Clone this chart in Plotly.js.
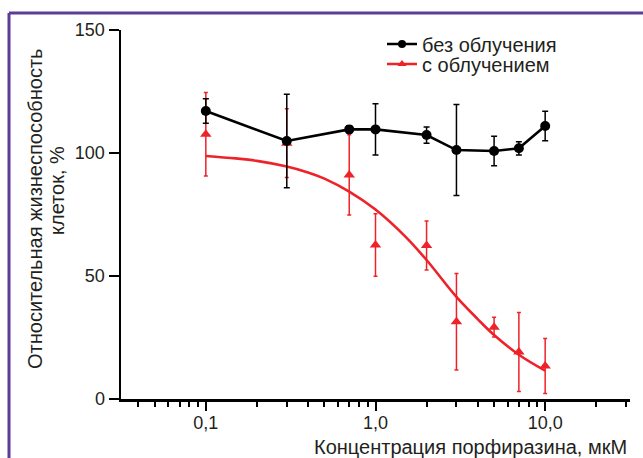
<!DOCTYPE html>
<html>
<head>
<meta charset="utf-8">
<script src="https://cdn.plot.ly/plotly-3.0.1.min.js"></script>
<style>html,body{margin:0;padding:0;background:#fff;}#chart{width:643px;height:458px;}</style>
</head>
<body>
<div id="chart"></div>
<script>
// Concentrations (µM)
const concBlack = [0.1, 0.3, 0.7, 1, 2, 3, 5, 7, 10];
const viabBlack = [117.1, 104.9, 109.6, 109.6, 107.3, 101.2, 100.8, 101.9, 111];
const errBlack  = [5, 19, 1.5, 10.4, 3.3, 18.5, 6, 2.7, 6];

const concRed = [0.1, 0.3, 0.7, 1, 2, 3, 5, 7, 10];
const viabRed = [107.6, 104, 91.1, 62.6, 62.4, 31.4, 29.2, 19.1, 13.4];
const errRed  = [17, 14, 16.3, 12.7, 10, 19.6, 4, 16.1, 11.2];

// fitted curve
const fitX = [0.1, 0.15, 0.2, 0.3, 0.4, 0.5, 0.7, 1, 1.5, 2, 3, 4, 5, 7, 10];
const fitY = [98.8, 97.8, 96.8, 94.5, 92.1, 89.6, 84.3, 77, 66, 56.5, 41.5, 32.5, 26, 18, 11.5];

const seriesNames = ['без облучения', 'с облучением'];
const xTickVals = [0.1, 1, 10];
const xTickText = ['0,1', '1,0', '10,0'];
const xMinorVals = [0.04,0.05,0.06,0.07,0.08,0.09,0.2,0.3,0.4,0.5,0.6,0.7,0.8,0.9,2,3,4,5,6,7,8,9,20,30];
const yTickVals = [0, 50, 100, 150];
const yTitle1 = 'Относительная жизнеспособность';
const yTitle2 = 'клеток, %';
const xTitle = 'Концентрация порфиразина, мкМ';

const RED = '#ee2229';
const BLK = '#000000';
const TXT = '#231f20';
const FONT = 'Liberation Sans, Arial, sans-serif';

const traces = [
  {x: fitX, y: fitY, type: 'scatter', mode: 'lines', line: {color: RED, width: 2.6, shape: 'spline', smoothing: 1}, showlegend: false, hoverinfo: 'skip'},
  {x: concRed, y: viabRed, type: 'scatter', mode: 'markers',
   marker: {symbol: 'triangle-up', size: 10, color: RED},
   error_y: {type: 'data', array: errRed, visible: true, color: RED, thickness: 1.5, width: 2},
   showlegend: false},
  {x: concBlack, y: viabBlack, type: 'scatter', mode: 'lines+markers',
   line: {color: BLK, width: 2.6}, marker: {symbol: 'circle', size: 10, color: BLK},
   error_y: {type: 'data', array: errBlack, visible: true, color: BLK, thickness: 1.5, width: 3},
   showlegend: false},
  // legend entries
  {x: [null], y: [null], type: 'scatter', mode: 'lines+markers', name: seriesNames[0],
   line: {color: BLK, width: 2.6}, marker: {symbol: 'circle', size: 8, color: BLK}, legend: 'legend'},
  {x: [null], y: [null], type: 'scatter', mode: 'lines+markers', name: seriesNames[1],
   line: {color: RED, width: 2.6}, marker: {symbol: 'triangle-up', size: 8, color: RED}, legend: 'legend2'}
];

const L = 121, R = 630, T = 30, B = 399, W = 643, H = 458;
const px = v => (v - L) / (R - L);
const py = v => (B - v) / (B - T);

const layout = {
  width: W, height: H,
  margin: {l: L, r: W - R, t: T, b: H - B, pad: 0},
  paper_bgcolor: '#fff', plot_bgcolor: '#fff',
  font: {family: FONT, color: TXT},
  showlegend: true,
  xaxis: {
    type: 'log', range: [-1.5, 1.5], showgrid: false, zeroline: false,
    showline: true, linecolor: BLK, linewidth: 2.5,
    ticks: 'outside', ticklen: 9, tickwidth: 2, tickcolor: BLK,
    tickmode: 'array', tickvals: xTickVals, ticktext: xTickText,
    tickfont: {size: 18, color: TXT, family: FONT}, ticklabelstandoff: -3,
    minor: {tickmode: 'array', tickvals: xMinorVals, ticks: 'outside', ticklen: 5, tickwidth: 2, tickcolor: BLK, showgrid: false}
  },
  yaxis: {
    range: [0, 150], showgrid: false, zeroline: false,
    showline: true, linecolor: BLK, linewidth: 2.5,
    ticks: 'outside', ticklen: 10, tickwidth: 2, tickcolor: BLK,
    tickmode: 'array', tickvals: yTickVals,
    tickfont: {size: 18, color: TXT, family: FONT}
  },
  legend: {x: px(382), y: py(44), xanchor: 'left', yanchor: 'middle', bgcolor: 'rgba(0,0,0,0)',
           font: {size: 20, color: TXT, family: FONT}, itemwidth: 30},
  legend2: {x: px(382), y: py(64), xanchor: 'left', yanchor: 'middle', bgcolor: 'rgba(0,0,0,0)',
            font: {size: 20, color: TXT, family: FONT}, itemwidth: 30},
  annotations: [
    {text: yTitle1, xref: 'paper', yref: 'paper', x: px(35), y: py(209), xanchor: 'center', yanchor: 'middle',
     textangle: -90, showarrow: false, font: {size: 20, color: TXT, family: FONT}},
    {text: yTitle2, xref: 'paper', yref: 'paper', x: px(57), y: py(191), xanchor: 'center', yanchor: 'middle',
     textangle: -90, showarrow: false, font: {size: 20, color: TXT, family: FONT}},
    {text: xTitle, xref: 'paper', yref: 'paper', x: px(629), y: py(447), xanchor: 'right', yanchor: 'middle',
     showarrow: false, font: {size: 20, color: TXT, family: FONT}}
  ],
  shapes: [
    {type: 'line', xref: 'paper', yref: 'paper', x0: px(9), x1: px(W + 5), y0: py(13), y1: py(13), line: {color: '#5c3c96', width: 3}},
    {type: 'line', xref: 'paper', yref: 'paper', x0: px(9), x1: px(9), y0: py(13), y1: py(H + 5), line: {color: '#5c3c96', width: 3}}
  ]
};

Plotly.newPlot('chart', traces, layout, {displayModeBar: false, staticPlot: true});
</script>
</body>
</html>
